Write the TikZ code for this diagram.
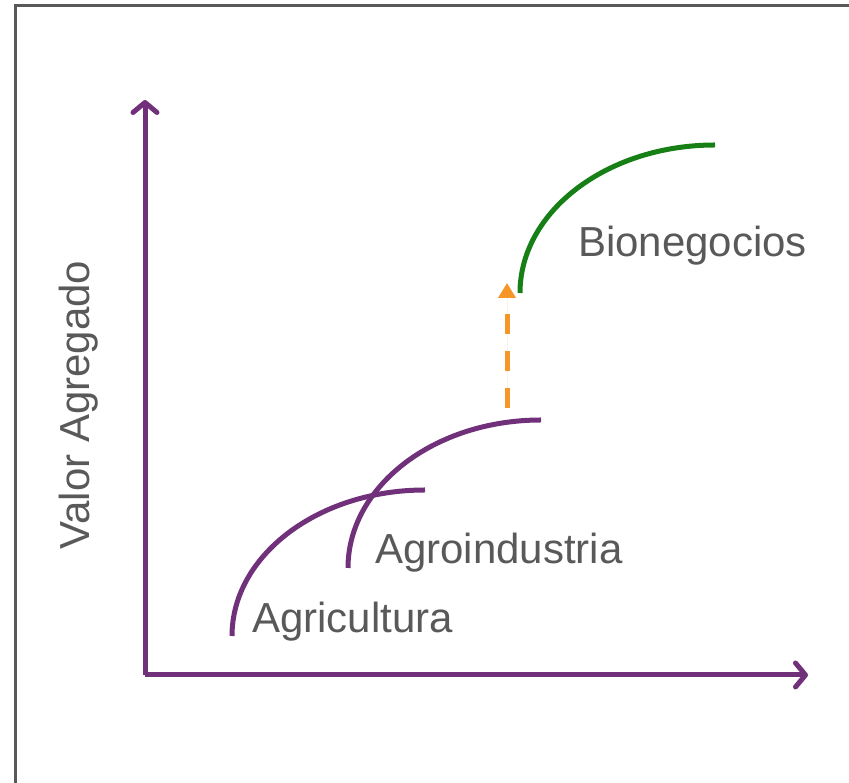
\documentclass[tikz,border=0pt]{standalone}
\usepackage{fontspec}
\setmainfont{Liberation Sans}
\usepackage{tikz}
\usetikzlibrary{arrows.meta,positioning}
\definecolor{mypurple}{RGB}{112,48,122}
\definecolor{mygreen}{RGB}{22,128,22}
\definecolor{myorange}{RGB}{247,150,40}
\definecolor{mygray}{RGB}{89,89,89}
\tikzstyle{axis}=[draw=mypurple,line width=5pt,-{Straight Barb[length=10pt,width=24pt,line cap=round,line join=round]}]
\tikzstyle{stage}=[line width=5pt]
\tikzstyle{label}=[text=mygray,font=\fontsize{42}{50}\selectfont,inner sep=0pt]

\begin{document}
\begin{tikzpicture}[x=1pt,y=1pt]
\useasboundingbox (0,0) rectangle (849,783);
\clip (0,0) rectangle (849,783);
\draw [draw=mygray,line width=3pt] (15,777) rectangle (870,-20);
% axes
\coordinate (o) at (145,108);
\coordinate (ytip) at (145,683);
\coordinate (xtip) at (808,108);
\draw [axis] (o) -- (ytip);
\draw [axis] (o) -- (xtip);
\node [label,rotate=90] (valor) at (79,378) {Valor Agregado};
% curves
\coordinate (agri) at (232,147);
\draw [stage,draw=mypurple] (agri) arc[start angle=180,end angle=90,x radius=193,y radius=146];
\node [label,anchor=west] (lagri) at (252,161) {Agricultura};
\coordinate (agro) at (348,215);
\draw [stage,draw=mypurple] (agro) arc[start angle=180,end angle=90,x radius=193,y radius=148];
\node [label,anchor=west] (lagro) at (375,230) {Agroindustria};
\coordinate (bio) at (520,490);
\draw [stage,draw=mygreen] (bio) arc[start angle=180,end angle=90,x radius=195,y radius=148];
\node [label,anchor=west] (lbio) at (578,537) {Bionegocios};
% jump
\coordinate (jfrom) at (507,375);
\coordinate (jto) at (507,500);
\draw [draw=myorange,fill=myorange,line width=5pt,dash pattern=on 20pt off 17pt,-{Triangle[length=15pt,width=17pt]}] (jfrom) -- (jto);
\end{tikzpicture}
\end{document}
